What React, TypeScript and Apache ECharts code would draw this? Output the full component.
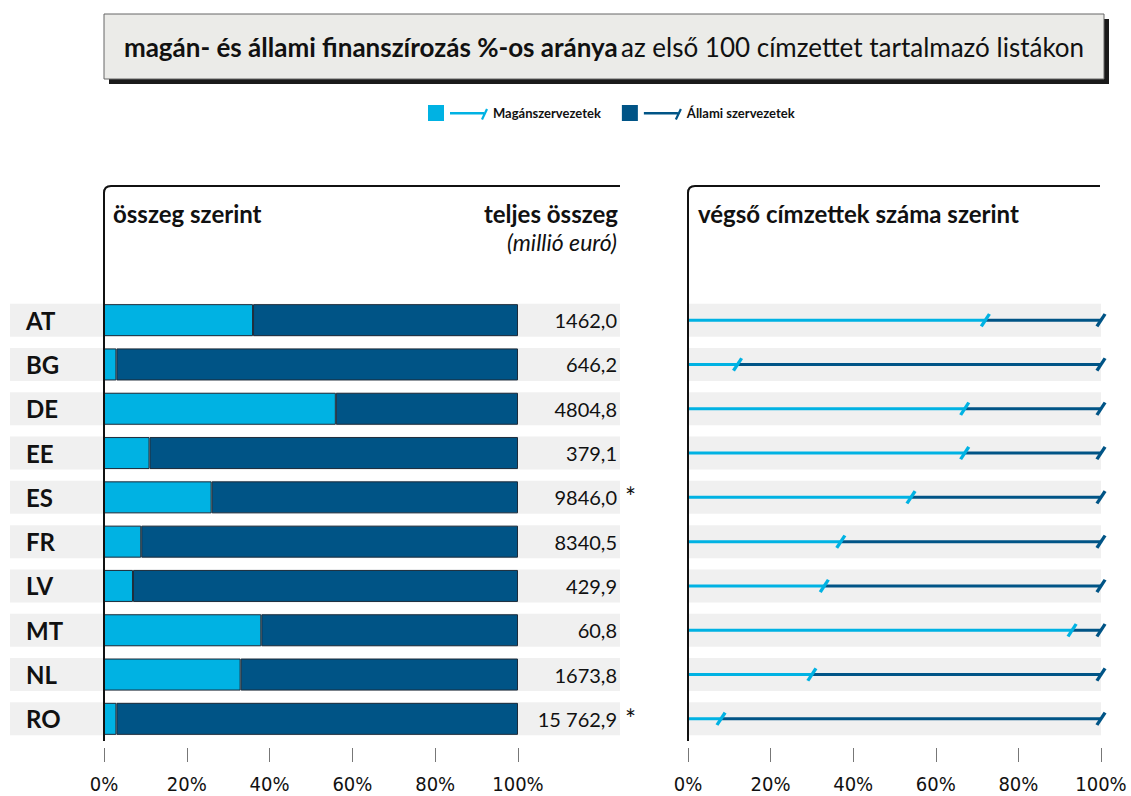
import React, { useEffect, useRef } from "react";
import * as echarts from "echarts";

const countries = ["AT", "BG", "DE", "EE", "ES", "FR", "LV", "MT", "NL", "RO"];
const privateByAmount = [36, 3, 56, 11, 26, 9, 7, 38, 33, 3];
const publicByAmount = [64, 97, 44, 89, 74, 91, 93, 62, 67, 97];
const totals = ["1462,0", "646,2", "4804,8", "379,1", "9846,0", "8340,5", "429,9", "60,8", "1673,8", "15 762,9"];
const totalNotes = ["", "", "", "", "*", "", "", "", "", "*"];
const privateByCount = [72, 12, 67, 67, 54, 37, 33, 93, 30, 8];
const publicByCount = [28, 88, 33, 33, 46, 63, 67, 7, 70, 92];

const LIGHT = "#00b2e3";
const DARK = "#005486";
const BAND = "#f0f0f0";
const FONT = "Lato, 'Open Sans', sans-serif";
const NARROW = "'Liberation Sans Narrow', 'DejaVu Sans Condensed', Lato, sans-serif";

const SLASH = "path://M0,12.5L8,0L10.8,1.6L2.8,14.1Z";
const ICON = "path://M0,0H16V16H0Z M22,7H56V9.6H22Z M53,14L58,3.5L60,4.6L55,15.1Z";

let registered = false;
function registerShapes() {
  if (registered) return;
  registered = true;
  echarts.graphic.registerShape(
    "frameL",
    echarts.graphic.extendPath("M104,741 L104,193 Q104,186 111,186 L620,186", {}) as any
  );
  echarts.graphic.registerShape(
    "frameR",
    echarts.graphic.extendPath("M688,741 L688,193 Q688,186 695,186 L1100,186", {}) as any
  );
}

export default function App() {
  const ref = useRef<HTMLDivElement>(null);

  useEffect(() => {
    document.body.style.margin = "0";
    registerShapes();
    const chart = echarts.init(ref.current!, undefined, { renderer: "svg" });
    const bandValues = countries.map(() => 1);
    const top = 298;
    const height = 443;

    const pctAxis = (gridIndex: number) => ({
      type: "value",
      gridIndex,
      min: 0,
      max: 100,
      interval: 20,
      offset: 7,
      z: 10,
      axisLine: { show: false },
      axisTick: { show: true, length: 14, lineStyle: { color: "#777", width: 1 } },
      splitLine: { show: false },
      axisLabel: { formatter: "{value}%", margin: 26, fontSize: 20, color: "#111", fontFamily: NARROW },
    });

    const hiddenCat = (gridIndex: number) => ({
      type: "category",
      gridIndex,
      inverse: true,
      data: countries,
      show: false,
    });

    const option: any = {
      animation: false,
      textStyle: { fontFamily: FONT },
      legend: {
        left: 423,
        top: 100,
        itemWidth: 60,
        itemHeight: 16,
        itemGap: 21,
        itemStyle: { borderWidth: 0 },
        textStyle: { fontSize: 13, fontWeight: "bold", color: "#111", fontFamily: FONT },
        data: [
          { name: "Magánszervezetek", icon: ICON },
          { name: "Állami szervezetek", icon: ICON },
        ],
      },
      grid: [
        { left: 10, width: 610, top, height },
        { left: 104, width: 414, top, height },
        { left: 688, width: 413, top, height },
        { left: 688, width: 413, top, height },
      ],
      xAxis: [
        { type: "value", gridIndex: 0, min: 0, max: 1, show: false },
        pctAxis(1),
        pctAxis(2),
        { type: "value", gridIndex: 3, min: 0, max: 1, show: false },
      ],
      yAxis: [
        hiddenCat(0),
        {
          type: "category",
          gridIndex: 1,
          inverse: true,
          data: countries,
          z: 10,
          axisLine: { show: false },
          axisTick: { show: false },
          axisLabel: { align: "left", margin: 78, fontSize: 24, fontWeight: "bold", color: "#111" },
        },
        {
          type: "category",
          gridIndex: 1,
          inverse: true,
          position: "right",
          data: totals,
          z: 10,
          axisLine: { show: false },
          axisTick: { show: false },
          axisLabel: { align: "right", margin: 99, fontSize: 20, color: "#111" },
        },
        {
          type: "category",
          gridIndex: 1,
          inverse: true,
          position: "right",
          data: totalNotes,
          z: 10,
          axisLine: { show: false },
          axisTick: { show: false },
          axisLabel: { align: "left", margin: 107, fontSize: 26, color: "#111", padding: [6, 0, 0, 0] },
        },
        hiddenCat(2),
        hiddenCat(3),
      ],
      series: [
        {
          type: "bar",
          xAxisIndex: 0,
          yAxisIndex: 0,
          data: bandValues,
          barWidth: 33,
          itemStyle: { color: BAND },
          silent: true,
          z: 0,
        },
        {
          type: "bar",
          xAxisIndex: 3,
          yAxisIndex: 5,
          data: bandValues,
          barWidth: 33,
          itemStyle: { color: BAND },
          silent: true,
          z: 0,
        },
        {
          name: "Magánszervezetek",
          type: "bar",
          xAxisIndex: 1,
          yAxisIndex: 1,
          stack: "amount",
          data: privateByAmount,
          barWidth: 32,
          itemStyle: { color: LIGHT, borderColor: "#1c2b3a", borderWidth: 1 },
          z: 3,
        },
        {
          name: "Állami szervezetek",
          type: "bar",
          xAxisIndex: 1,
          yAxisIndex: 1,
          stack: "amount",
          data: publicByAmount,
          barWidth: 32,
          itemStyle: { color: DARK, borderColor: "#1c2b3a", borderWidth: 1 },
          z: 3,
        },
        {
          name: "Magánszervezetek",
          type: "bar",
          xAxisIndex: 2,
          yAxisIndex: 4,
          stack: "count",
          data: privateByCount,
          barWidth: 3,
          itemStyle: { color: LIGHT },
          z: 3,
        },
        {
          name: "Állami szervezetek",
          type: "bar",
          xAxisIndex: 2,
          yAxisIndex: 4,
          stack: "count",
          data: publicByCount,
          barWidth: 3,
          itemStyle: { color: DARK },
          z: 3,
        },
        {
          name: "Állami szervezetek",
          type: "scatter",
          xAxisIndex: 2,
          yAxisIndex: 4,
          symbol: SLASH,
          symbolSize: [11, 14],
          itemStyle: { color: DARK, opacity: 1 },
          data: countries.map((c, i) => [privateByCount[i] + publicByCount[i], c]),
          z: 5,
        },
        {
          name: "Magánszervezetek",
          type: "scatter",
          xAxisIndex: 2,
          yAxisIndex: 4,
          symbol: SLASH,
          symbolSize: [11, 14],
          itemStyle: { color: LIGHT, opacity: 1 },
          data: countries.map((c, i) => [privateByCount[i], c]),
          z: 6,
        },
      ],
      graphic: [
        {
          type: "rect",
          shape: { x: 109, y: 19, width: 1000, height: 65 },
          style: { fill: "#1a1a1a" },
          z: 1,
        },
        {
          type: "rect",
          shape: { x: 104, y: 14, width: 1000, height: 65 },
          style: { fill: "#ebebe8", stroke: "#666", lineWidth: 1 },
          z: 2,
        },
        {
          type: "text",
          x: 604,
          y: 47,
          z: 3,
          style: {
            text: "{b|magán- és állami finanszírozás %-os aránya} {n|az első 100 címzettet tartalmazó listákon}",
            align: "center",
            verticalAlign: "middle",
            rich: {
              b: { fontSize: 26, fontWeight: "bold", fill: "#111", fontFamily: FONT },
              n: { fontSize: 26, fill: "#111", fontFamily: FONT },
            },
          },
        },
        {
          type: "frameL",
          z: 10,
          style: { stroke: "#111", fill: "none", lineWidth: 2 },
        },
        {
          type: "frameR",
          z: 10,
          style: { stroke: "#111", fill: "none", lineWidth: 2 },
        },
        {
          type: "text",
          x: 113,
          y: 213,
          style: { text: "összeg szerint", fontSize: 24, fontWeight: "bold", fill: "#111", fontFamily: FONT, verticalAlign: "middle" },
        },
        {
          type: "text",
          x: 618,
          y: 213,
          style: { text: "teljes összeg", fontSize: 24, fontWeight: "bold", fill: "#111", fontFamily: FONT, align: "right", verticalAlign: "middle" },
        },
        {
          type: "text",
          x: 617,
          y: 242,
          style: { text: "(millió euró)", fontSize: 23, fontStyle: "italic", fill: "#111", fontFamily: FONT, align: "right", verticalAlign: "middle" },
        },
        {
          type: "text",
          x: 698,
          y: 213,
          style: { text: "végső címzettek száma szerint", fontSize: 24, fontWeight: "bold", fill: "#111", fontFamily: FONT, verticalAlign: "middle" },
        },
      ],
    };

    chart.setOption(option);
    return () => chart.dispose();
  }, []);

  return <div ref={ref} style={{ width: 1131, height: 796 }} />;
}
